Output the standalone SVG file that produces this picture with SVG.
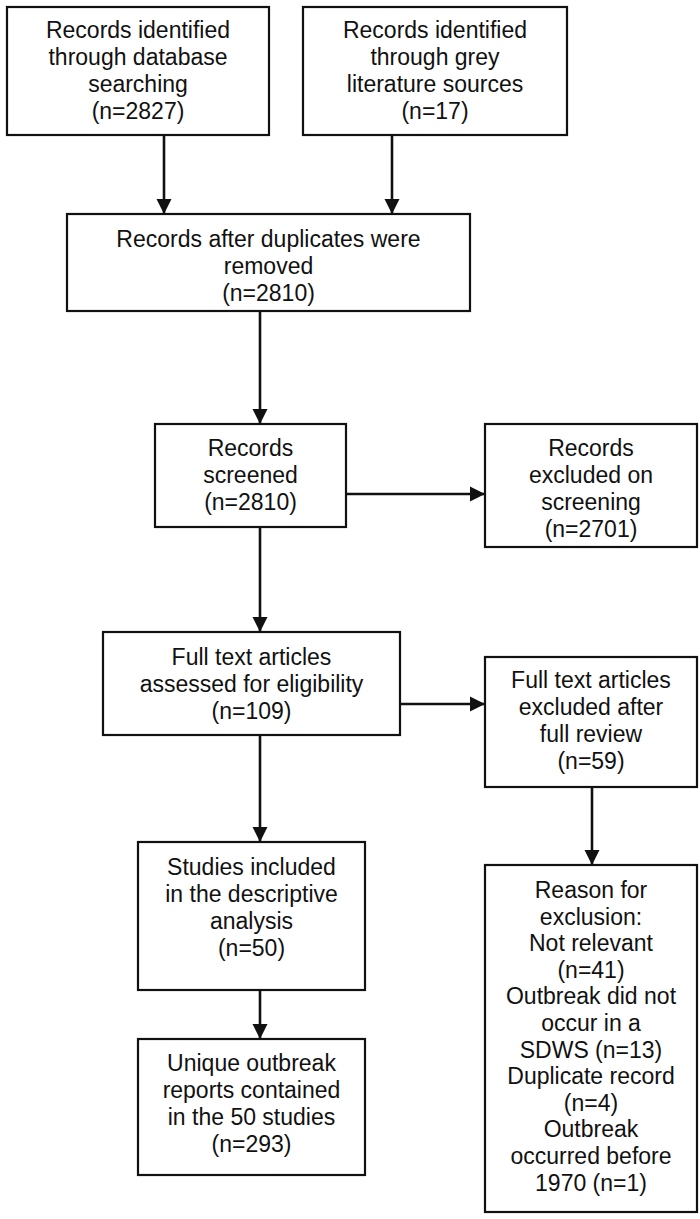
<svg xmlns="http://www.w3.org/2000/svg" width="700" height="1219" viewBox="0 0 700 1219">
<style>
.box{fill:#fff;stroke:#111;stroke-width:2.2}
.t{font-family:"Liberation Sans",Arial,sans-serif;font-size:23px;fill:#111;text-anchor:middle}
.c{fill:none;stroke:#111;stroke-width:2.6}
</style>
<defs>
<marker id="ah" markerUnits="userSpaceOnUse" markerWidth="15" markerHeight="16" refX="15" refY="8" orient="auto">
<path d="M0,0.5 L15,8 L0,15.5 Z" fill="#111"/>
</marker>
</defs>
<rect width="700" height="1219" fill="#fff"/>
<g id="connectors">
<line class="c" x1="164" y1="135" x2="164" y2="214" marker-end="url(#ah)"/>
<line class="c" x1="392" y1="135" x2="392" y2="214" marker-end="url(#ah)"/>
<line class="c" x1="260" y1="311" x2="260" y2="424" marker-end="url(#ah)"/>
<line class="c" x1="347" y1="494" x2="485" y2="494" marker-end="url(#ah)"/>
<line class="c" x1="260" y1="527" x2="260" y2="632" marker-end="url(#ah)"/>
<line class="c" x1="400" y1="704" x2="485" y2="704" marker-end="url(#ah)"/>
<line class="c" x1="260" y1="735" x2="260" y2="842" marker-end="url(#ah)"/>
<line class="c" x1="592" y1="787" x2="592" y2="865" marker-end="url(#ah)"/>
<line class="c" x1="260" y1="990" x2="260" y2="1039" marker-end="url(#ah)"/>
</g>
<g id="n1">
<rect class="box" x="7" y="7" width="262" height="128"/>
<text class="t" x="138" y="38"><tspan x="138">Records identified</tspan><tspan x="138" dy="27">through database</tspan><tspan x="138" dy="27">searching</tspan><tspan x="138" dy="27">(n=2827)</tspan></text>
</g>
<g id="n2">
<rect class="box" x="303" y="7" width="264" height="128"/>
<text class="t" x="435" y="38"><tspan x="435">Records identified</tspan><tspan x="435" dy="27">through grey</tspan><tspan x="435" dy="27">literature sources</tspan><tspan x="435" dy="27">(n=17)</tspan></text>
</g>
<g id="n3">
<rect class="box" x="67" y="214" width="403" height="97"/>
<text class="t" x="268.5" y="247"><tspan x="268.5">Records after duplicates were</tspan><tspan x="268.5" dy="27">removed</tspan><tspan x="268.5" dy="27">(n=2810)</tspan></text>
</g>
<g id="n4">
<rect class="box" x="155" y="424" width="191" height="103"/>
<text class="t" x="250.5" y="456"><tspan x="250.5">Records</tspan><tspan x="250.5" dy="27">screened</tspan><tspan x="250.5" dy="27">(n=2810)</tspan></text>
</g>
<g id="n5">
<rect class="box" x="485" y="424" width="212" height="123"/>
<text class="t" x="591" y="456"><tspan x="591">Records</tspan><tspan x="591" dy="27">excluded on</tspan><tspan x="591" dy="27">screening</tspan><tspan x="591" dy="27">(n=2701)</tspan></text>
</g>
<g id="n6">
<rect class="box" x="103" y="632" width="297" height="103"/>
<text class="t" x="251.5" y="665"><tspan x="251.5">Full text articles</tspan><tspan x="251.5" dy="27">assessed for eligibility</tspan><tspan x="251.5" dy="27">(n=109)</tspan></text>
</g>
<g id="n7">
<rect class="box" x="485" y="657" width="212" height="130"/>
<text class="t" x="591" y="688"><tspan x="591">Full text articles</tspan><tspan x="591" dy="27">excluded after</tspan><tspan x="591" dy="27">full review</tspan><tspan x="591" dy="27">(n=59)</tspan></text>
</g>
<g id="n8">
<rect class="box" x="138" y="842" width="227" height="148"/>
<text class="t" x="251.5" y="875"><tspan x="251.5">Studies included</tspan><tspan x="251.5" dy="27">in the descriptive</tspan><tspan x="251.5" dy="27">analysis</tspan><tspan x="251.5" dy="27">(n=50)</tspan></text>
</g>
<g id="n9">
<rect class="box" x="138" y="1039" width="227" height="136"/>
<text class="t" x="251.5" y="1071"><tspan x="251.5">Unique outbreak</tspan><tspan x="251.5" dy="27">reports contained</tspan><tspan x="251.5" dy="27">in the 50 studies</tspan><tspan x="251.5" dy="27">(n=293)</tspan></text>
</g>
<g id="n10">
<rect class="box" x="485" y="865" width="212" height="347"/>
<text class="t" x="591" y="898"><tspan x="591">Reason for</tspan><tspan x="591" dy="26.6">exclusion:</tspan><tspan x="591" dy="26.6">Not relevant</tspan><tspan x="591" dy="26.6">(n=41)</tspan><tspan x="591" dy="26.6">Outbreak did not</tspan><tspan x="591" dy="26.6">occur in a</tspan><tspan x="591" dy="26.6">SDWS (n=13)</tspan><tspan x="591" dy="26.6">Duplicate record</tspan><tspan x="591" dy="26.6">(n=4)</tspan><tspan x="591" dy="26.6">Outbreak</tspan><tspan x="591" dy="26.6">occurred before</tspan><tspan x="591" dy="26.6">1970 (n=1)</tspan></text>
</g>
</svg>
